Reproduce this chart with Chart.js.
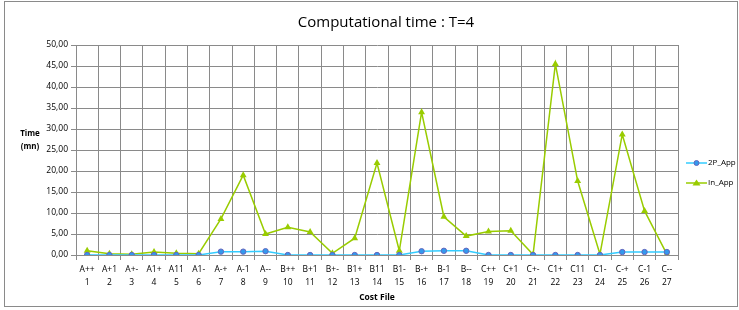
<!DOCTYPE html>
<html><head><meta charset="utf-8">
<script src="https://cdn.jsdelivr.net/npm/chart.js@4/dist/chart.umd.min.js"></script>
<style>html,body{margin:0;padding:0;background:#fff}#wrap{width:739px;height:310px;position:relative}</style>
</head><body><div id="wrap"><canvas id="c" width="739" height="310"></canvas></div>
<script>
const categories = ['A++','A+1','A+-','A1+','A11','A1-','A-+','A-1','A--','B++','B+1','B+-','B1+','B11','B1-','B-+','B-1','B--','C++','C+1','C+-','C1+','C11','C1-','C-+','C-1','C--'];
const fileNumbers = ['1','2','3','4','5','6','7','8','9','10','11','12','13','14','15','16','17','18','19','20','21','22','23','24','25','26','27'];
const app2P = [0,0,0,0,0,0,0.8,0.8,0.9,0,0,0,0,0,0,0.9,1.0,1.0,0,0,0,0,0,0,0.7,0.7,0.7];
const appIn = [1.0,0.3,0.2,0.7,0.4,0.3,8.6,19.0,5.0,6.6,5.5,0.4,4.0,21.9,1.0,34.0,9.1,4.5,5.6,5.8,0.1,45.5,17.6,0.2,28.7,10.5,0.2];
const yTicks = [0,5,10,15,20,25,30,35,40,45,50];
const seriesNames = ['2P_App','In_App'];
const titleText = 'Computational time : T=4';
const yTitle = ['Time','(mn)'];
const xTitle = 'Cost File';

const FONT = "'Open Sans', sans-serif";
const C_BLUE_LINE = '#33CCFF', C_BLUE_PT = '#3399EE', C_BLUE_BORDER = '#6666BB';
const C_GREEN = '#99CC00';

const labels = categories.map((c,i)=>[c, fileNumbers[i]]);

const decor = {
  id:'decor',
  afterDraw(chart){
    const ctx = chart.ctx;
    ctx.save();
    ctx.strokeStyle = '#8a8a8a'; ctx.lineWidth = 1;
    ctx.strokeRect(4.5, 1.5, 733, 305);
    ctx.fillStyle = '#000';
    ctx.font = "500 15px " + FONT;
    ctx.textAlign = 'center'; ctx.textBaseline = 'middle';
    ctx.fillText(titleText, 386, 23);
    ctx.font = "bold 8px " + FONT;
    ctx.fillText(yTitle[0], 30, 134);
    ctx.fillText(yTitle[1], 30, 147);
    const items = [
      {name: seriesNames[0], line: C_BLUE_LINE, y: 163, pt: 'circle'},
      {name: seriesNames[1], line: C_GREEN, y: 183, pt: 'tri'}
    ];
    items.forEach(it=>{
      ctx.strokeStyle = it.line; ctx.lineWidth = 1.5;
      ctx.beginPath(); ctx.moveTo(686, it.y); ctx.lineTo(707, it.y); ctx.stroke();
      if (it.pt==='circle'){
        ctx.fillStyle = C_BLUE_PT; ctx.strokeStyle = C_BLUE_BORDER; ctx.lineWidth=1;
        ctx.beginPath(); ctx.arc(696.5, it.y, 2.5, 0, Math.PI*2); ctx.fill(); ctx.stroke();
      } else {
        ctx.fillStyle = C_GREEN;
        ctx.beginPath(); ctx.moveTo(696.5, it.y-3.5); ctx.lineTo(700.5, it.y+2.5); ctx.lineTo(692.5, it.y+2.5); ctx.closePath(); ctx.fill();
      }
      ctx.fillStyle = '#000'; ctx.font = "8px " + FONT; ctx.textAlign='left';
      ctx.fillText(it.name, 708, it.y);
    });
    ctx.restore();
  }
};

new Chart(document.getElementById('c'), {
  type: 'line',
  data: {
    labels: labels,
    datasets: [
      {label: seriesNames[0], data: app2P, borderColor: C_BLUE_LINE, backgroundColor: C_BLUE_PT,
       pointBackgroundColor: C_BLUE_PT, pointBorderColor: C_BLUE_BORDER, pointBorderWidth: 1,
       pointStyle: 'circle', pointRadius: 2.7, borderWidth: 1.5, tension: 0, order: 1},
      {label: seriesNames[1], data: appIn, borderColor: C_GREEN, backgroundColor: C_GREEN,
       pointBackgroundColor: C_GREEN, pointBorderColor: C_GREEN, pointBorderWidth: 0,
       pointStyle: 'triangle', pointRadius: 4, borderWidth: 1.5, tension: 0, order: 2}
    ]
  },
  options: {
    responsive: false, animation: false,
    layout: {padding: {left: 0, top: 45, right: 61, bottom: 0}},
    plugins: {legend: {display: false}, title: {display: false}, tooltip: {enabled: false}},
    scales: {
      x: {
        offset: true,
        grid: {offset: true, color: '#8a8a8a', lineWidth: 1, tickLength: 5, drawTicks: true},
        border: {color: '#8a8a8a'},
        ticks: {font: {family: FONT, size: 8.5, lineHeight: 1.55}, color: '#000', maxRotation: 0, autoSkip: false, padding: 3},
        title: {display: true, text: xTitle, font: {family: FONT, size: 8.5, weight: 'bold'}, color: '#000', padding: {top: 0, bottom: 7}},
        afterFit(s){ s.height = 55; }
      },
      y: {
        min: 0, max: 50,
        afterBuildTicks(s){ s.ticks = yTicks.map(v=>({value:v})); },
        grid: {color: '#8a8a8a', lineWidth: 1, tickLength: 5},
        border: {color: '#8a8a8a'},
        ticks: {font: {family: FONT, size: 8.5}, color: '#000', padding: 3,
          callback: v => v.toFixed(2).replace('.', ',')},
        afterFit(s){ s.width = 76; }
      }
    }
  },
  plugins: [decor]
});
</script></body></html>
